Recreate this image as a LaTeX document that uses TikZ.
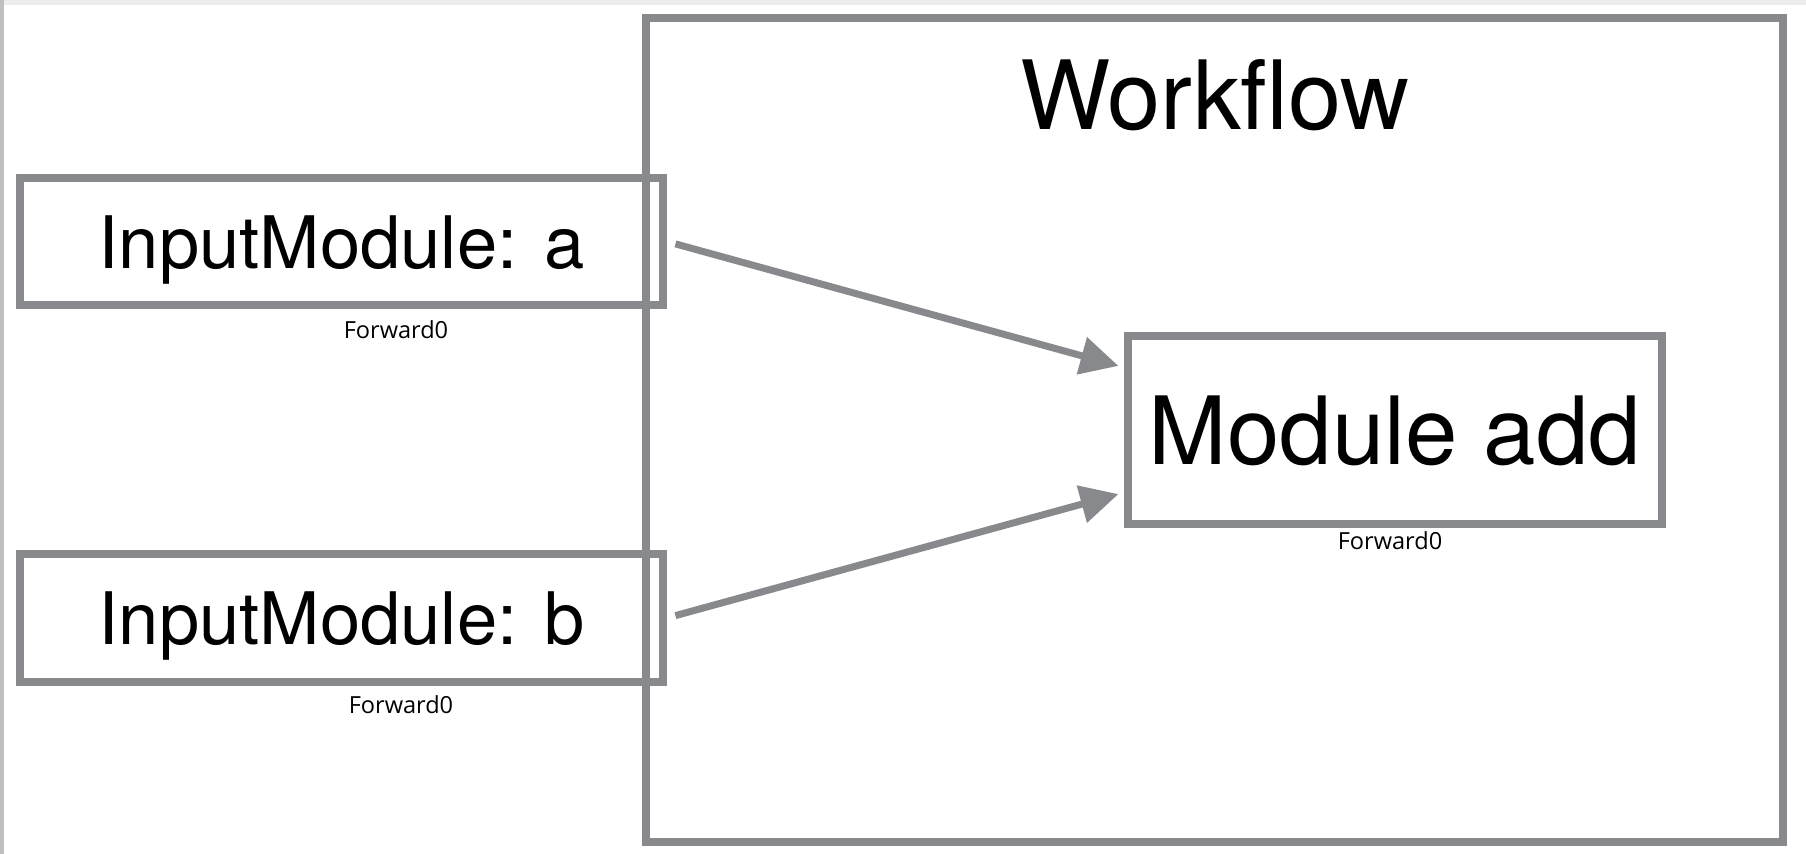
\documentclass[tikz,border=0pt]{standalone}
\usepackage{fontspec}
\setmainfont{TeX Gyre Heros}
\newfontfamily\tagfont{Open Sans}
\usetikzlibrary{arrows.meta}
\definecolor{boxgrey}{RGB}{135,137,141}
\tikzset{
  modbox/.style={draw=boxgrey, line width=0.075cm, inner sep=0pt, text depth=0pt},
  tag/.style={font=\tagfont\fontsize{6.7pt}{7pt}\selectfont, inner sep=0pt},
  flow/.style={draw=boxgrey, line width=0.07cm, -{Triangle[length=0.38cm,width=0.37cm]}, shorten <=0.09cm, shorten >=0.06cm}
}
\begin{document}
\begin{tikzpicture}
\useasboundingbox (0,0) rectangle (18.06,8.54);
\fill[black!25] (0,0) rectangle (0.04,8.54);
\fill[black!7] (0.04,8.49) rectangle (18.06,8.54);
\draw[boxgrey, line width=0.08cm] (6.46,0.12) rectangle (17.83,8.36);
\node[anchor=base, font=\fontsize{27.2pt}{32pt}\selectfont] (title) at (12.15,7.24) {Workflow};
\node[modbox, minimum width=6.43cm, minimum height=1.27cm, text height=0.54cm, font=\fontsize{20.6pt}{25pt}\selectfont] (a) at (3.415,6.125) {InputModule: a};
\node[modbox, minimum width=6.43cm, minimum height=1.28cm, text height=0.54cm, font=\fontsize{20.6pt}{25pt}\selectfont] (b) at (3.415,2.36) {InputModule: b};
\node[modbox, minimum width=5.34cm, minimum height=1.88cm, text height=0.69cm, font=\fontsize{26.8pt}{32pt}\selectfont] (add) at (13.95,4.24) {Module add};
\node[tag] (fa) at (3.96,5.24) {Forward0};
\node[tag] (fb) at (4.01,1.49) {Forward0};
\node[tag] (fadd) at (13.90,3.13) {Forward0};
\draw[flow] (a.east) -- (add.167);
\draw[flow] (b.east) -- (add.193);
\end{tikzpicture}
\end{document}
